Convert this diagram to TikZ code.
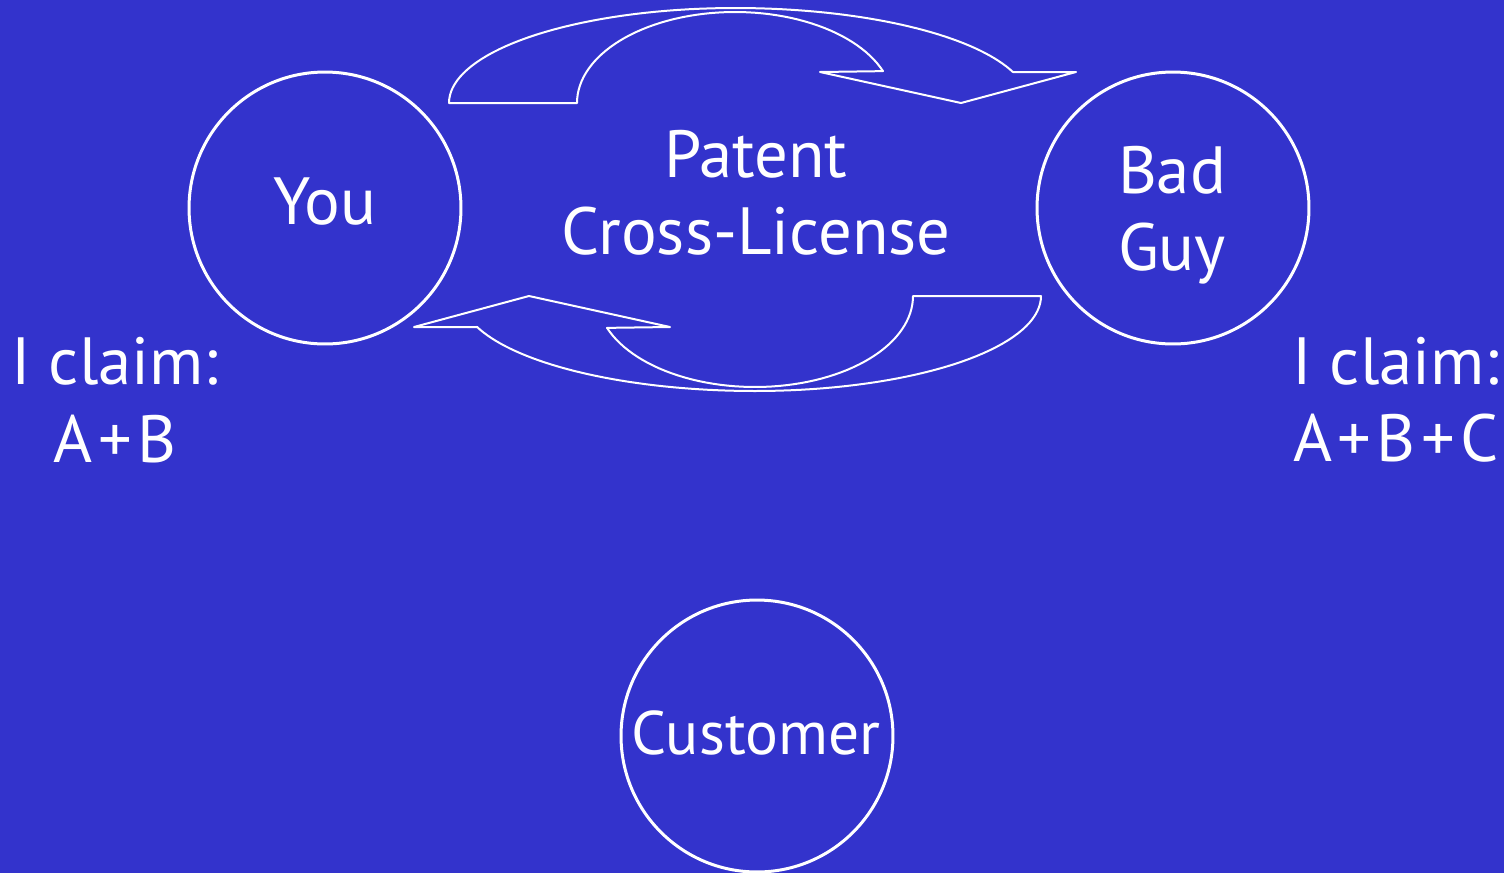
\documentclass[tikz,border=0pt]{standalone}
\usepackage{fontspec}
\setmainfont{PT Sans}
\definecolor{slide}{RGB}{51,51,204}
\newcommand\plusgap{\hspace{3pt}+\hspace{3pt}}
\tikzset{
  party/.style={circle, draw=white, line width=0.06cm, minimum size=5.44cm,
    inner sep=0pt},
  caption/.style={text=white, align=center, inner sep=0pt,
    font=\fontsize{38}{44}\selectfont},
  bandarrow/.style={draw=white, line width=0.04cm, line join=round}
}
% one curved block arrow, in pixel units, y pointing down
\newcommand\licensearrow{%
  (449,103) -- (577,103)
  -- plot[domain=180:20.5, samples=60] ({735+158*cos(\x)}, {103-91*sin(\x)})
  -- (820,72) -- (961,103) -- (1076,72) -- (1013,72)
  -- plot[domain=19:90, samples=40] ({735+294*cos(\x)}, {103-95*sin(\x)})
  -- plot[domain=90:180, samples=40] ({735+286*cos(\x)}, {103-95*sin(\x)})
  -- cycle}
\begin{document}
\begin{tikzpicture}[x=0.02cm, y=-0.02cm]
  \fill[slide] (0,0) rectangle (1504,873);
  \useasboundingbox (0,0) rectangle (1504,873);

  % the two cross-licence arrows
  \draw[bandarrow] \licensearrow;
  \begin{scope}[rotate around={180:(745,199.5)}]
    \draw[bandarrow] \licensearrow;
  \end{scope}

  % parties
  \node[party] (you) at (325,208) {};
  \node[party] (badguy) at (1173,208) {};
  \node[party] (customer) at (757,736) {};
  \node[caption] (youname) at (325,202) {You};
  \node[caption] (badguyname) at (1172,215) {Bad\\Guy};
  \node[caption, font=\fontsize{35}{40}\selectfont] (customername) at (756,733) {Customer};

  % labels
  \node[caption] (license) at (756,193) {Patent\\Cross-License};
  \node[caption] (youclaim) at (115,400) {I claim:\\A\plusgap B};
  \node[caption] (badclaim) at (1396,400) {I claim:\\A\plusgap B\plusgap C};
\end{tikzpicture}
\end{document}
